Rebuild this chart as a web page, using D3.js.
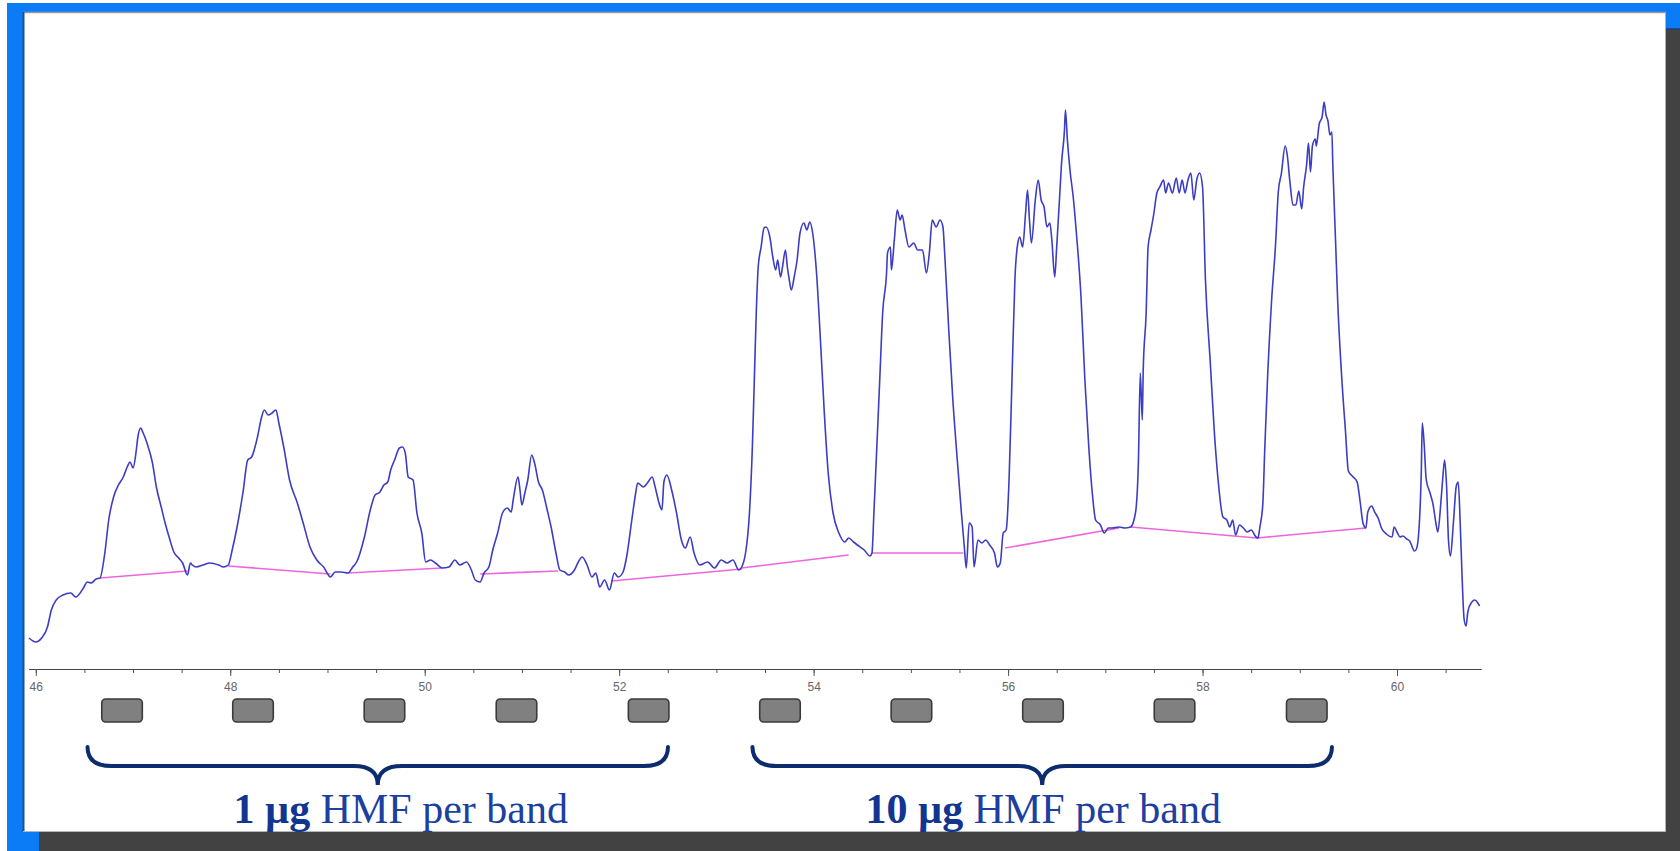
<!DOCTYPE html>
<html>
<head>
<meta charset="utf-8">
<script src="https://cdnjs.cloudflare.com/ajax/libs/d3/7.8.5/d3.min.js"></script>
<style>
  html, body { margin: 0; padding: 0; background: #fff; }
  svg { display: block; }
</style>
</head>
<body>
<svg id="chart"></svg>
<script>
// densitometer scan, position along the plate (mm) vs intensity (a.u.)
const xTicks = [46, 48, 50, 52, 54, 56, 58, 60];

// centres of the ten applied bands
const lanes = [46.887, 48.234, 49.586, 50.944, 52.303, 53.654, 55.006, 56.359, 57.712, 59.072];

// brackets below the bands
const groupLabels = ["1 µg", "10 µg"];
const groupStart = [46.532, 53.371];
const groupEnd = [52.502, 59.331];

// scan trace [position, intensity]
const trace = [
  [45.93, 31], [46.00, 27], [46.06, 31], [46.12, 42], [46.16, 59], [46.21, 69], [46.28, 74], [46.36, 76],
  [46.41, 72], [46.49, 81], [46.53, 87], [46.57, 86], [46.62, 90], [46.66, 91],
  [46.71, 116], [46.75, 149], [46.80, 172], [46.85, 184], [46.90, 192], [46.94, 202], [46.97, 207],
  [47.00, 201], [47.03, 216], [47.05, 232], [47.08, 241], [47.10, 237], [47.14, 227], [47.20, 206],
  [47.24, 182], [47.29, 162], [47.33, 146], [47.38, 129], [47.42, 117], [47.47, 111], [47.51, 106],
  [47.56, 94], [47.59, 106], [47.61, 104], [47.65, 102], [47.72, 104], [47.79, 106], [47.88, 104],
  [47.93, 102], [47.98, 104],
  [48.02, 119], [48.07, 142], [48.13, 176], [48.18, 209], [48.22, 212], [48.28, 232], [48.32, 251],
  [48.35, 259], [48.39, 254], [48.43, 256], [48.47, 259], [48.50, 246], [48.55, 222], [48.61, 189],
  [48.69, 166], [48.75, 146], [48.82, 122], [48.89, 109], [48.96, 102], [49.03, 92], [49.08, 97],
  [49.14, 97], [49.21, 96], [49.26, 102],
  [49.30, 107], [49.38, 132], [49.44, 159], [49.49, 174], [49.54, 177], [49.58, 184], [49.62, 187],
  [49.65, 199], [49.69, 209], [49.74, 221], [49.77, 222], [49.80, 216], [49.83, 192], [49.88, 189],
  [49.92, 156], [49.97, 136], [50.01, 107], [50.06, 109], [50.11, 106], [50.18, 101], [50.25, 102],
  [50.31, 109], [50.36, 104], [50.43, 107], [50.48, 99], [50.52, 89], [50.57, 87], [50.61, 96],
  [50.66, 102], [50.70, 119], [50.75, 136], [50.80, 156], [50.85, 161], [50.89, 157], [50.91, 169],
  [50.96, 192], [50.98, 179], [51.00, 164], [51.03, 176], [51.06, 189], [51.10, 214], [51.13, 206],
  [51.17, 187], [51.21, 179], [51.26, 159], [51.30, 142], [51.35, 116], [51.39, 99], [51.44, 97],
  [51.48, 94], [51.54, 99], [51.58, 107], [51.62, 112], [51.67, 104], [51.72, 92], [51.76, 96],
  [51.80, 82], [51.85, 89], [51.90, 79], [51.95, 96], [51.99, 92], [52.04, 97],
  [52.08, 114], [52.13, 149], [52.17, 176], [52.19, 186], [52.25, 182], [52.29, 186], [52.34, 192],
  [52.37, 182], [52.41, 166], [52.44, 159], [52.46, 187], [52.49, 194], [52.54, 179], [52.59, 156],
  [52.64, 129], [52.68, 121], [52.73, 132], [52.77, 116], [52.83, 104], [52.91, 107], [52.98, 101],
  [53.05, 109], [53.11, 106], [53.17, 109], [53.23, 99], [53.28, 107],
  [53.30, 116], [53.34, 156], [53.37, 222], [53.39, 289], [53.41, 356], [53.43, 402], [53.46, 422],
  [53.49, 441], [53.51, 442], [53.55, 432], [53.58, 412], [53.61, 399], [53.63, 409], [53.66, 392],
  [53.68, 402], [53.71, 419], [53.73, 402], [53.75, 389], [53.77, 379], [53.80, 392], [53.83, 409],
  [53.86, 436], [53.90, 446], [53.93, 439], [53.96, 447], [53.99, 436], [54.03, 396], [54.07, 329],
  [54.11, 256], [54.15, 196], [54.20, 156], [54.26, 136], [54.32, 127], [54.36, 131], [54.41, 127],
  [54.45, 124], [54.52, 119], [54.58, 113], [54.60, 116],
  [54.62, 156], [54.65, 222], [54.68, 289], [54.71, 356], [54.75, 396], [54.76, 416], [54.79, 422],
  [54.80, 399], [54.83, 429], [54.86, 459], [54.89, 449], [54.91, 454], [54.94, 439], [54.98, 422],
  [55.03, 426], [55.07, 419], [55.12, 419], [55.16, 396], [55.19, 416], [55.22, 449], [55.26, 442],
  [55.30, 449], [55.33, 442], [55.35, 412], [55.39, 339], [55.43, 272], [55.48, 206], [55.52, 156],
  [55.55, 122], [55.57, 101], [55.60, 146], [55.63, 142], [55.65, 102], [55.69, 129], [55.73, 126],
  [55.77, 129], [55.81, 124], [55.86, 116], [55.89, 102], [55.92, 106], [55.95, 136], [55.98, 139],
  [56.01, 189], [56.04, 289], [56.07, 389], [56.10, 426], [56.12, 432], [56.15, 422], [56.18, 456],
  [56.20, 479], [56.22, 449], [56.24, 426], [56.28, 469], [56.31, 489], [56.34, 469], [56.37, 462],
  [56.40, 442], [56.43, 446], [56.45, 429], [56.48, 392], [56.50, 422], [56.53, 472], [56.55, 506],
  [56.58, 539], [56.59, 559], [56.61, 529], [56.64, 496], [56.67, 472], [56.70, 439], [56.75, 372],
  [56.79, 289], [56.83, 222], [56.87, 172], [56.90, 149], [56.95, 144], [56.99, 136], [57.03, 141],
  [57.07, 141], [57.14, 142], [57.20, 141], [57.26, 142],
  [57.31, 156], [57.34, 206], [57.36, 296], [57.38, 249], [57.39, 299], [57.42, 356], [57.44, 422],
  [57.47, 439], [57.50, 456], [57.53, 476], [57.56, 482], [57.60, 489], [57.62, 476], [57.65, 486],
  [57.69, 476], [57.73, 491], [57.76, 476], [57.79, 489], [57.82, 476], [57.85, 489], [57.88, 496],
  [57.91, 469], [57.94, 489], [57.97, 496], [58.00, 482], [58.03, 389], [58.08, 306], [58.12, 239],
  [58.16, 189], [58.21, 152], [58.25, 149], [58.28, 142], [58.31, 149], [58.34, 134], [58.38, 144],
  [58.42, 141], [58.46, 137], [58.50, 139], [58.55, 132], [58.57, 131],
  [58.59, 142], [58.62, 165], [58.64, 220], [58.67, 294], [58.71, 368], [58.75, 423], [58.78, 478],
  [58.81, 495], [58.85, 523], [58.87, 515], [58.90, 486], [58.93, 464], [58.96, 464], [58.99, 478],
  [59.02, 460], [59.04, 482], [59.07, 504], [59.09, 526], [59.11, 497], [59.13, 523], [59.16, 530],
  [59.17, 523], [59.20, 545], [59.23, 552], [59.25, 567], [59.27, 554], [59.29, 548], [59.31, 534],
  [59.33, 537], [59.34, 504], [59.37, 423], [59.39, 368], [59.43, 294], [59.47, 238], [59.50, 198],
  [59.55, 192], [59.59, 187], [59.62, 168], [59.65, 146], [59.68, 141], [59.70, 157], [59.74, 163],
  [59.77, 157], [59.81, 150], [59.84, 141], [59.89, 135], [59.95, 132], [59.97, 142], [60.00, 137],
  [60.03, 132], [60.06, 133], [60.10, 130], [60.13, 128], [60.18, 118], [60.20, 120], [60.23, 146],
  [60.25, 198], [60.26, 246], [60.28, 224], [60.30, 190], [60.34, 176], [60.37, 165], [60.40, 146],
  [60.42, 137], [60.45, 165], [60.47, 190], [60.49, 209], [60.51, 183], [60.53, 128], [60.55, 113],
  [60.58, 146], [60.61, 183], [60.63, 187], [60.65, 146], [60.67, 91], [60.69, 50], [60.71, 43],
  [60.73, 58], [60.77, 67], [60.80, 69], [60.85, 63]
];

// integration baselines, one per band [x0, v0, x1, v1]
const baselines = [
  [46.66, 91, 47.56, 98],
  [47.98, 103, 49.03, 95],
  [49.21, 96, 50.18, 101],
  [50.57, 95, 51.37, 98],
  [51.92, 88, 53.26, 100],
  [53.26, 101, 54.36, 114],
  [54.60, 116, 55.54, 116],
  [55.97, 121, 57.14, 141],
  [57.26, 142, 58.56, 131],
  [58.56, 131, 59.68, 141]
];

const W = 1680, H = 851;
const svg = d3.select("#chart").attr("width", W).attr("height", H);

// frame
svg.append("rect").attr("x", 7).attr("y", 3).attr("width", W - 7).attr("height", H - 3).attr("fill", "#0b7cf6");
svg.append("rect").attr("x", 39).attr("y", 29).attr("width", W - 39).attr("height", H - 29).attr("fill", "#424242");
svg.append("line").attr("x1", 1666).attr("x2", W).attr("y1", 29).attr("y2", 29).attr("stroke", "#1b3f7a").attr("stroke-width", 1.5);
svg.append("rect").attr("x", 23).attr("y", 12).attr("width", 1643).attr("height", 820).attr("fill", "#fff");
svg.append("line").attr("x1", 23).attr("x2", 1666).attr("y1", 12.5).attr("y2", 12.5).attr("stroke", "#9a9a9a").attr("stroke-width", 1.5);
svg.append("line").attr("x1", 23.5).attr("x2", 23.5).attr("y1", 12).attr("y2", 832).attr("stroke", "#1f4f96").attr("stroke-width", 2);
svg.append("line").attr("x1", 23).attr("x2", 1666).attr("y1", 831.5).attr("y2", 831.5).attr("stroke", "#b5b5b5").attr("stroke-width", 1);
svg.append("line").attr("x1", 1665.5).attr("x2", 1665.5).attr("y1", 12).attr("y2", 832).attr("stroke", "#b0b0b0").attr("stroke-width", 1);

const x = d3.scaleLinear().domain([45.926, 60.864]).range([28.6, 1481]);
const y = d3.scaleLinear().domain([0, 600]).range([669, 69]);

// axis: minor every 0.5, labels every 2
const minor = d3.axisBottom(x).tickValues(d3.range(46, 60.6, 0.5)).tickSize(4).tickSizeOuter(0).tickFormat("");
const major = d3.axisBottom(x).tickValues(xTicks).tickSize(7).tickSizeOuter(0).tickPadding(6);

const gMinor = svg.append("g").attr("transform", `translate(0,${y(0)})`).call(minor);
const gMajor = svg.append("g").attr("transform", `translate(0,${y(0)})`).call(major);
[gMinor, gMajor].forEach(g => {
  g.select(".domain").attr("stroke", "#444").attr("stroke-width", 1.2);
  g.selectAll(".tick line").attr("stroke", "#555");
});
gMajor.selectAll(".tick text")
  .attr("fill", "#666")
  .style("font-family", "Liberation Sans, Arial, sans-serif")
  .style("font-size", "12px");

// baselines
svg.append("g").selectAll("line")
  .data(baselines)
  .join("line")
  .attr("x1", d => x(d[0])).attr("y1", d => y(d[1]))
  .attr("x2", d => x(d[2])).attr("y2", d => y(d[3]))
  .attr("stroke", "#ee66dd")
  .attr("stroke-width", 1.6);

// trace
svg.append("path")
  .datum(trace)
  .attr("d", d3.line().curve(d3.curveMonotoneX).x(d => x(d[0])).y(d => y(d[1])))
  .attr("fill", "none")
  .attr("stroke", "#3d3dc4")
  .attr("stroke-width", 1.6)
  .attr("stroke-linejoin", "round");

// band markers
const bandW = 0.417;
svg.append("g").selectAll("rect")
  .data(lanes)
  .join("rect")
  .attr("x", d => x(d - bandW / 2))
  .attr("y", 699)
  .attr("width", x(bandW) - x(0))
  .attr("height", 23)
  .attr("rx", 4)
  .attr("fill", "#808080")
  .attr("stroke", "#3a3a3a")
  .attr("stroke-width", 1.6);

// braces
function brace(x0, x1) {
  const m = (x0 + x1) / 2, top = 747, mid = 766, tip = 785, r = 24;
  return `M${x0},${top} Q${x0},${mid} ${x0 + r},${mid} L${m - r},${mid} Q${m},${mid} ${m},${tip} ` +
         `Q${m},${mid} ${m + r},${mid} L${x1 - r},${mid} Q${x1},${mid} ${x1},${top}`;
}
svg.append("g").selectAll("path")
  .data(groupLabels.map((g, i) => ({ g, a: groupStart[i], b: groupEnd[i] })))
  .join("path")
  .attr("d", d => brace(x(d.a), x(d.b)))
  .attr("fill", "none")
  .attr("stroke", "#0c2c6e")
  .attr("stroke-width", 4)
  .attr("stroke-linecap", "round");

const labelShift = [23, 1];
const lbl = svg.append("g").selectAll("text")
  .data(groupLabels.map((g, i) => ({ g, a: groupStart[i], b: groupEnd[i], i })))
  .join("text")
  .attr("x", d => (x(d.a) + x(d.b)) / 2 + labelShift[d.i])
  .attr("y", 823)
  .attr("text-anchor", "middle")
  .style("font-family", "Liberation Serif, Times New Roman, serif")
  .style("font-size", "42px")
  .attr("fill", "#1b40a0");
lbl.append("tspan").attr("font-weight", "bold").attr("fill", "#123592").text(d => d.g);
lbl.append("tspan").text(" HMF per band");
</script>
</body>
</html>
